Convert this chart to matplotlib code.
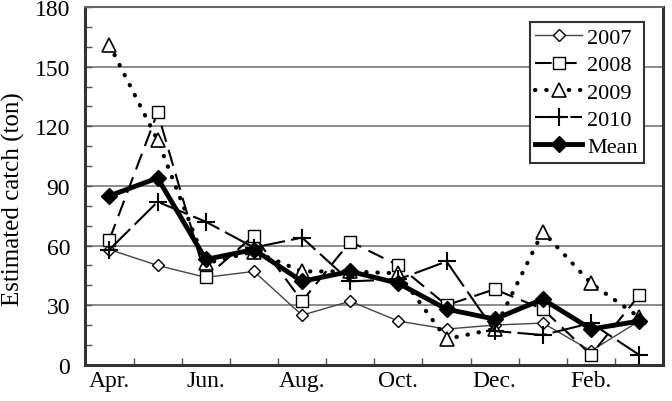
import numpy as np
import matplotlib.pyplot as plt
from matplotlib.ticker import MultipleLocator

plt.rcParams['font.family'] = ['Liberation Serif', 'DejaVu Serif']

# ------------------ Data --------------------

months = ['Apr.', 'May', 'Jun.', 'Jul.', 'Aug.', 'Sep.', 'Oct.', 'Nov.', 'Dec.', 'Jan.', 'Feb.', 'Mar.']
labels = ['Apr.', '', 'Jun.', '', 'Aug.', '', 'Oct.', '', 'Dec.', '', 'Feb.', '']

catch2007 = [58, 50, 44, 47, 25, 32, 22, 18, 20, 21, 7, 22]
catch2008 = [63, 127, 44, 65, 32, 62, 50, 30, 38, 28, 5, 35]
catch2009 = [161, 113, 51, 57, 47, 47, 46, 13, 18, 67, 41, 24]
catch2010 = [58, 82, 72, 59, 64, 42, 43, 52, 17, 15, 21, 5]
catchMean = [85, 94, 53, 58, 42, 47, 41, 28, 23, 33, 18, 22]

# ------------------ Plot --------------------

x = np.arange(len(months))

fig = plt.figure(figsize=(6.72, 4.02), dpi=100)
ax = fig.add_axes([0.127, 0.09, 0.86, 0.89])

ax.plot(x, catch2007, color='#444444', lw=1.0, marker='D', ms=6.5,
        mfc='white', mec='black', mew=1.0, label='2007', zorder=3)
ax.plot(x, catch2008, color='black', lw=1.5, dashes=(8, 4), marker='s', ms=9,
        mfc='white', mec='black', mew=1.0, label='2008', zorder=4)
ax.plot(x, catch2009, color='black', lw=3.0, dashes=(0.1, 2.6), dash_capstyle='round',
        marker='^', ms=10, mfc='white', mec='black', mew=1.2, label='2009', zorder=5)
ax.plot(x, catch2010, color='black', lw=1.5, dashes=(14, 3), marker='+', ms=13,
        mew=1.5, label='2010', zorder=6)
ax.plot(x, catchMean, color='black', lw=3.5, marker='D', ms=8.5,
        mfc='black', mec='black', label='Mean', zorder=7)

ax.set_xlim(-0.5, 11.5)
ax.set_ylim(0, 180)

ax.set_yticks(np.arange(0, 181, 30))
ax.yaxis.set_minor_locator(MultipleLocator(10))
ax.set_xticks(x)
ax.set_xticklabels(labels)
ax.set_xticks(x[:-1] + 0.5, minor=True)

ax.tick_params(axis='x', which='major', length=0, labelsize=17, pad=4)
ax.tick_params(axis='x', which='minor', direction='in', length=5, width=1, color='#555555')
ax.tick_params(axis='y', which='both', direction='in', length=5, width=1,
               color='#555555', labelsize=17, pad=11)

for yv in range(30, 180, 30):
    ax.axhline(yv, color='#777777', lw=1.2, zorder=1)

for side in ['left', 'right', 'bottom']:
    ax.spines[side].set_linewidth(2.2)
    ax.spines[side].set_color('#333333')
ax.spines['top'].set_linewidth(1.5)
ax.spines['top'].set_color('#666666')

ax.set_ylabel('Estimated catch (ton)', fontsize=18)
ax.yaxis.set_label_coords(-0.104, 0.465)

leg = ax.legend(loc='upper right', bbox_to_anchor=(0.966, 0.958), fontsize=16,
                fancybox=False, framealpha=1, edgecolor='#333333',
                handlelength=2.1, handletextpad=0.25, borderpad=0.25,
                labelspacing=0.3, borderaxespad=0.0)
leg.get_frame().set_linewidth(1.5)

fig.savefig('out.png', dpi=100)
